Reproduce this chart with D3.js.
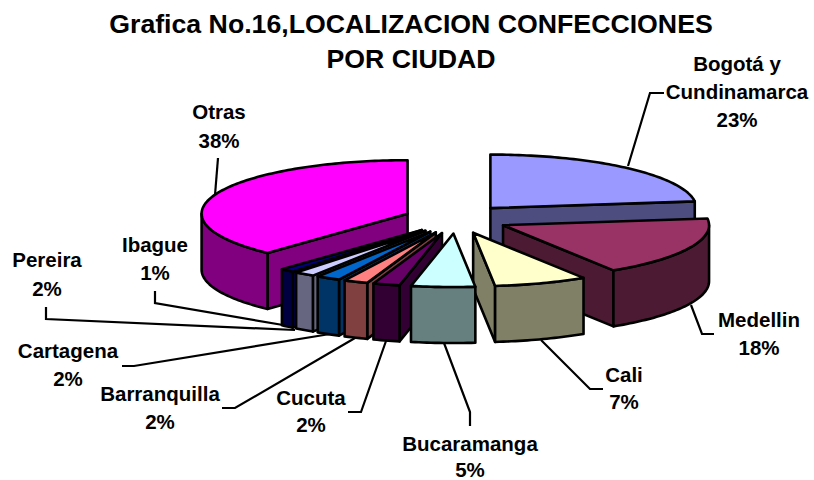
<!DOCTYPE html>
<html>
<head>
<meta charset="utf-8">
<script src="https://cdnjs.cloudflare.com/ajax/libs/d3/7.8.5/d3.min.js"></script>
<style>
html,body{margin:0;padding:0;background:#fff;}
svg{display:block;}
text{font-family:"Liberation Sans",Arial,sans-serif;font-weight:bold;fill:#000;}
</style>
</head>
<body>
<svg id="c" width="814" height="480"></svg>
<script>
// Data
const titleLines = ["Grafica No.16,LOCALIZACION CONFECCIONES", "POR CIUDAD"];
const categories = ["Bogotá y Cundinamarca","Medellin","Cali","Bucaramanga","Cucuta","Barranquilla","Cartagena","Pereira","Ibague","Otras"];
const values = [23, 18, 7.3, 5.0, 2.1, 1.9, 1.9, 1.6, 1.1, 38.1];
const topColors = ["#9999FF","#993366","#FFFFCC","#CCFFFF","#660066","#FF8080","#0066CC","#CCCCFF","#000080","#FF00FF"];
const sideColors = ["#4D4D80","#4D1A33","#808066","#668080","#330033","#804040","#003366","#666680","#000040","#800080"];

// Layout
const cx = 456, cy = 219, rx = 206, ry = 53.5, depth = 56, explodeR = 52, explodeK = 0.28;
const drawOrder = [9,0,1,8,7,6,5,4,2,3];
const labelLayout = {
  "Bogotá y Cundinamarca": {x:737, ys:[71,99,127], lines:["Bogotá y","Cundinamarca"], leader:[[628,166],[650,93],[664,93]]},
  "Medellin": {x:759, ys:[327,355], leader:[[691,305],[702,334],[714,334]]},
  "Cali": {x:624, ys:[382,409], leader:[[541,340],[590,389],[603,389]]},
  "Bucaramanga": {x:470, ys:[451,477], leader:[[444,343],[470,412],[470,426]]},
  "Cucuta": {x:311, ys:[405,432], leader:[[386,341],[361,412],[348,412]]},
  "Barranquilla": {x:160, ys:[401,429], leader:[[355,338],[235,408],[222,408]]},
  "Cartagena": {x:68, ys:[358,386], leader:[[330,334],[134,366],[122,366]]},
  "Pereira": {x:47, ys:[267,296], leader:[[295,330],[46,319],[46,307]]},
  "Ibague": {x:155, ys:[252,280], leader:[[283,325],[155,303],[155,291]]},
  "Otras": {x:219, ys:[119,148], leader:[[215,195],[218,158]]}
};

const svg = d3.select("#c");
const pie = d3.pie().sort(null).value(d => d)(values);
const line = d3.line();
const pathClosed = pts => line(pts) + "Z";
const arcAngles = (a0, a1) => {
  const n = Math.max(2, Math.ceil((a1 - a0) / 0.02));
  return d3.range(n + 1).map(i => a0 + (a1 - a0) * i / n);
};

// Leader lines (beneath the pie)
svg.append("g").selectAll("path").data(categories).join("path")
  .attr("d", d => line(labelLayout[d].leader))
  .attr("fill", "none").attr("stroke", "#000").attr("stroke-width", 2.2);

// Pie slices, back to front
const slices = svg.append("g").attr("stroke", "#000").attr("stroke-width", 2.6).attr("stroke-linejoin", "round");
drawOrder.forEach(i => {
  const s = pie[i];
  const mid = (s.startAngle + s.endAngle) / 2;
  const ax = cx + explodeR * Math.sin(mid);
  const ay = cy - explodeR * explodeK * Math.cos(mid);
  const pt = (a, dz = 0) => [ax + rx * Math.sin(a), ay - ry * Math.cos(a) + dz];
  const g = slices.append("g");
  const wall = a => g.append("path")
    .attr("d", pathClosed([[ax, ay], pt(a), pt(a, depth), [ax, ay + depth]]))
    .attr("fill", sideColors[i]);
  if (Math.sin(s.startAngle) < -1e-6) wall(s.startAngle);
  if (Math.sin(s.endAngle) > 1e-6) wall(s.endAngle);
  const f0 = Math.max(s.startAngle, Math.PI / 2), f1 = Math.min(s.endAngle, 3 * Math.PI / 2);
  if (f1 > f0) {
    const as = arcAngles(f0, f1);
    g.append("path")
      .attr("d", pathClosed(as.map(a => pt(a)).concat(as.slice().reverse().map(a => pt(a, depth)))))
      .attr("fill", sideColors[i]);
  }
  g.append("path")
    .attr("d", pathClosed([[ax, ay]].concat(arcAngles(s.startAngle, s.endAngle).map(a => pt(a)))))
    .attr("fill", topColors[i]);
});

// Title
svg.append("g").selectAll("text").data(titleLines).join("text")
  .attr("x", 411).attr("y", (d, i) => 33 + i * 35)
  .attr("text-anchor", "middle").attr("font-size", 26.7).text(d => d);

// Labels
const total = d3.sum(values);
const labels = svg.append("g").attr("text-anchor", "middle");
categories.forEach((c, i) => {
  const L = labelLayout[c];
  const rows = (L.lines || [c]).concat(Math.round(values[i] / total * 100) + "%");
  rows.forEach((t, j) => labels.append("text").attr("x", L.x).attr("y", L.ys[j]).attr("font-size", 20.5).text(t));
});
</script>
</body>
</html>
